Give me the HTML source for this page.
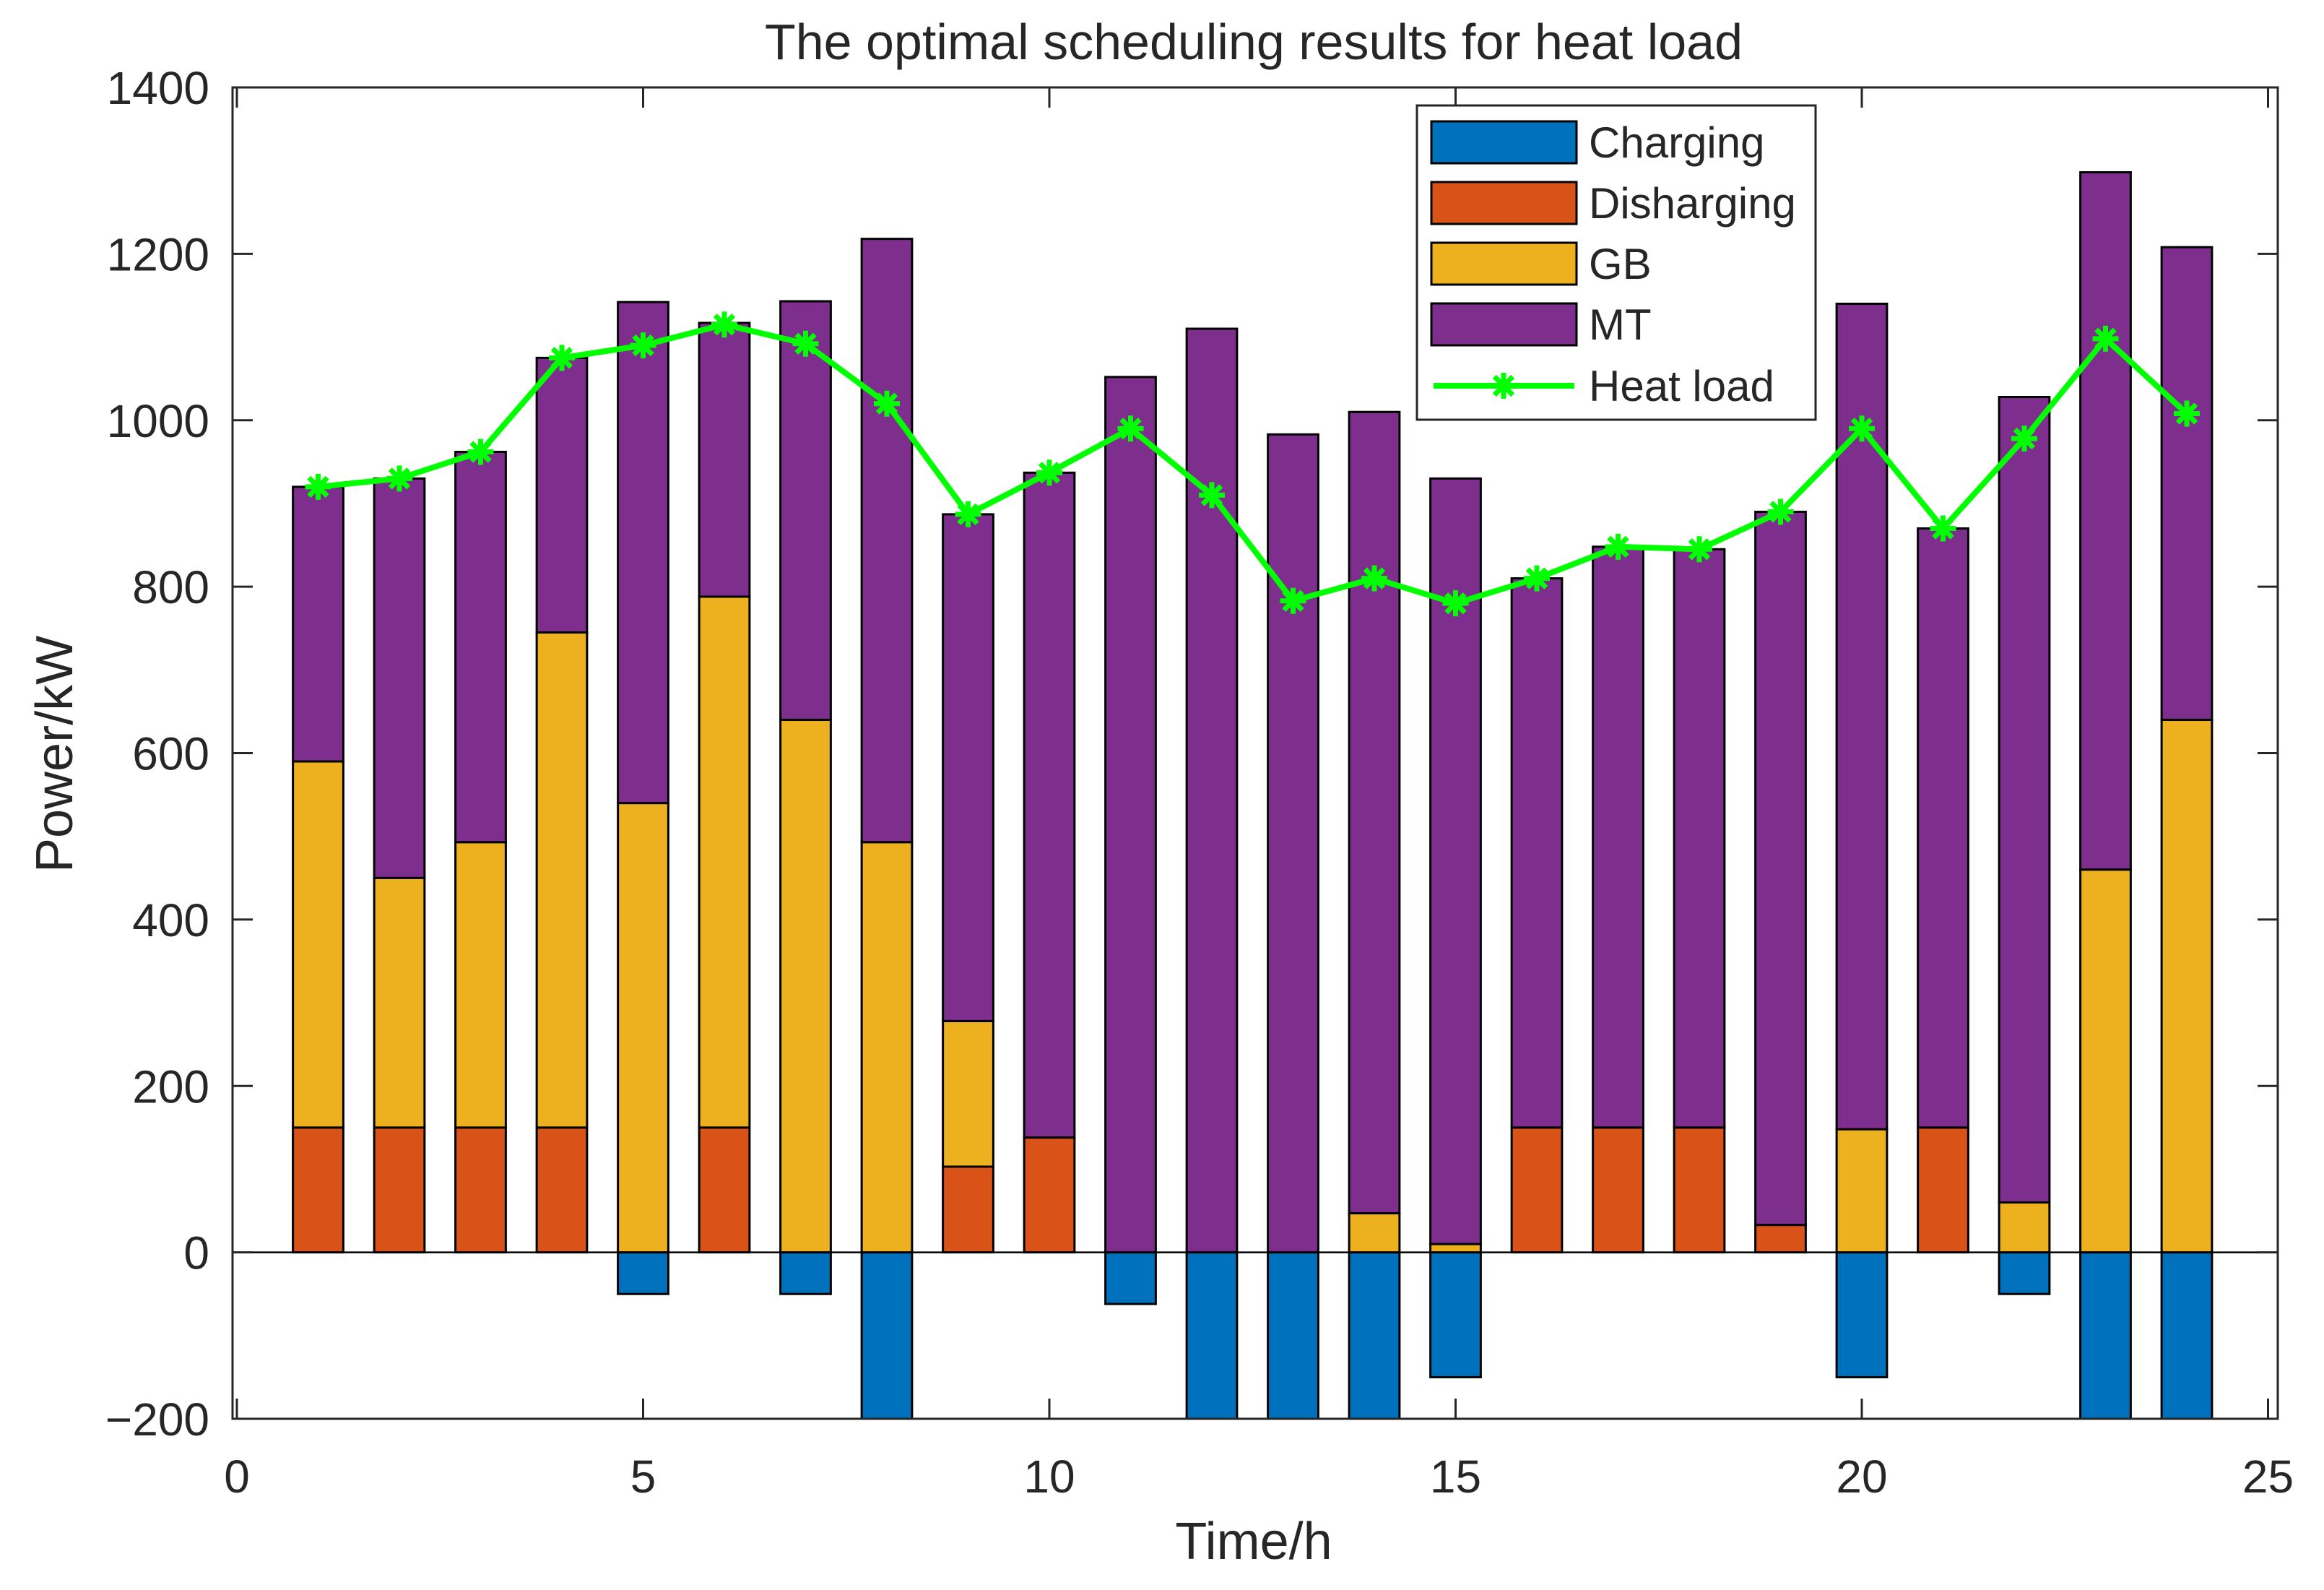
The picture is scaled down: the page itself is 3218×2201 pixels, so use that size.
<!DOCTYPE html>
<html><head><meta charset="utf-8"><style>
html,body{margin:0;padding:0;background:#fff;}
svg text{font-family:"Liberation Sans",Arial,sans-serif;fill:#262626;}
</style></head><body>
<svg id="chart" width="3218" height="2196" viewBox="0 0 3218 2196" xmlns="http://www.w3.org/2000/svg">
<rect x="0" y="0" width="3218" height="2196" fill="#fff"/>
<text x="1736" y="82" font-size="70" text-anchor="middle">The optimal scheduling results for heat load</text>
<text x="1736" y="2158" font-size="72" text-anchor="middle">Time/h</text>
<text x="0" y="0" font-size="72" text-anchor="middle" transform="translate(100,1044) rotate(-90)">Power/kW</text>
<g id="bars"></g>
<g id="axes"></g>
<g id="line"></g>
<g id="legend"></g>
</svg>
<script>
const hours=[1,2,3,4,5,6,7,8,9,10,11,12,13,14,15,16,17,18,19,20,21,22,23,24];
const charging=[0,0,0,0,-50,0,-50,-200,0,0,-62,-200,-200,-200,-150,0,0,0,0,-150,0,-50,-200,-200];
const discharging=[150,150,150,150,0,150,0,0,103,138,0,0,0,0,0,150,150,150,33,0,150,0,0,0];
const gb=[440,300,343,595,540,638,640,493,175,0,0,0,0,47,10,0,0,0,0,148,0,60,460,640];
const mt=[330,480,469,330,602,329,503,725,609,799,1052,1110,983,963,920,660,698,695,857,992,720,968,838,568];
const heatLoad=[920,930,962,1075,1090,1115,1092,1020,887,937,990,910,783,810,780,810,848,845,890,990,870,978,1098,1008];
const xTicks=[0,5,10,15,20,25];
const yTicks=[-200,0,200,400,600,800,1000,1200,1400];
const seriesNames=["Charging","Disharging","GB","MT","Heat load"];
const colors=["#0072BD","#D95319","#EDB120","#7E2F8E","#00FF00"];

const NS="http://www.w3.org/2000/svg";
const L=322,R=3154,T=121,B=1964;
const X0=328,XU=112.5;
function xs(v){return X0+v*XU;}
function ys(v){return B-(v+200)/1600*(B-T);}
function mk(tag,attrs,parent){const e=document.createElementNS(NS,tag);for(const k in attrs)e.setAttribute(k,attrs[k]);parent.appendChild(e);return e;}
const bars=document.getElementById('bars'),axes=document.getElementById('axes'),line=document.getElementById('line'),legend=document.getElementById('legend');
const bw=0.62*XU;
function seg(v0,v1,col,name){
  if(v1===v0)return;
  const y0=Math.min(ys(v0),ys(v1)),h=Math.abs(ys(v1)-ys(v0));
  return {y:y0,h:h,col:col,name:name};
}
hours.forEach((h,i)=>{
  const segs=[];
  segs.push(seg(0,charging[i],colors[0],'charging'));
  const d=discharging[i],g=gb[i],m=mt[i];
  segs.push(seg(0,d,colors[1],'discharging'));
  segs.push(seg(d,d+g,colors[2],'gb'));
  segs.push(seg(d+g,d+g+m,colors[3],'mt'));
  segs.forEach(s=>{if(!s)return;
    const r=mk('rect',{x:xs(h)-bw/2,y:s.y,width:bw,height:s.h,fill:s.col,stroke:'#000','stroke-width':3},bars);
    
    
  });
});
const zl=mk('line',{x1:L,x2:R,y1:ys(0),y2:ys(0),stroke:'#000','stroke-width':2.5},axes);


const box=mk('rect',{x:L,y:T,width:R-L,height:B-T,fill:'none',stroke:'#262626','stroke-width':3},axes);


xTicks.forEach(t=>{
  mk('line',{x1:xs(t),x2:xs(t),y1:B,y2:B-28,stroke:'#262626','stroke-width':3},axes);
  mk('line',{x1:xs(t),x2:xs(t),y1:T,y2:T+28,stroke:'#262626','stroke-width':3},axes);
  const tx=mk('text',{x:xs(t),y:2066,'font-size':64,'text-anchor':'middle'},axes);
  tx.textContent=t;
  
  
});
yTicks.forEach(t=>{
  mk('line',{x1:L,x2:L+28,y1:ys(t),y2:ys(t),stroke:'#262626','stroke-width':3},axes);
  mk('line',{x1:R,x2:R-28,y1:ys(t),y2:ys(t),stroke:'#262626','stroke-width':3},axes);
  const tx=mk('text',{x:290,y:ys(t)+23,'font-size':64,'text-anchor':'end'},axes);
  tx.textContent=t<0?'\u2212'+Math.abs(t):t;
  
  
});
function star(cx,cy,parent){
  const g=mk('g',{},parent);
  const r=18;
  for(let k=0;k<4;k++){const a=k*Math.PI/4;
    mk('line',{x1:cx-r*Math.cos(a),y1:cy-r*Math.sin(a),x2:cx+r*Math.cos(a),y2:cy+r*Math.sin(a),stroke:colors[4],'stroke-width':7},g);}
  return g;
}
const pl=mk('polyline',{points:hours.map((h,i)=>xs(h)+','+ys(heatLoad[i])).join(' '),fill:'none',stroke:colors[4],'stroke-width':8,'stroke-linejoin':'round'},line);


hours.forEach((h,i)=>{const s=star(xs(h),ys(heatLoad[i]),line);
  
  });
const lb=mk('rect',{x:1962,y:146,width:552,height:435,fill:'#fff',stroke:'#262626','stroke-width':3},legend);


const ly=[197,281,365,449,534];
seriesNames.forEach((n,i)=>{
  const g=mk('g',{},legend);
  
  
  if(i<4){mk('rect',{x:1982,y:ly[i]-29,width:201,height:58,fill:colors[i],stroke:'#000','stroke-width':3},g);}
  else{mk('line',{x1:1985,x2:2180,y1:ly[i],y2:ly[i],stroke:colors[4],'stroke-width':8},g);star(2082,ly[i],g);}
  const t=mk('text',{x:2200,y:ly[i]+21,'font-size':60},g);t.textContent=n;
});
</script>
</body></html>
